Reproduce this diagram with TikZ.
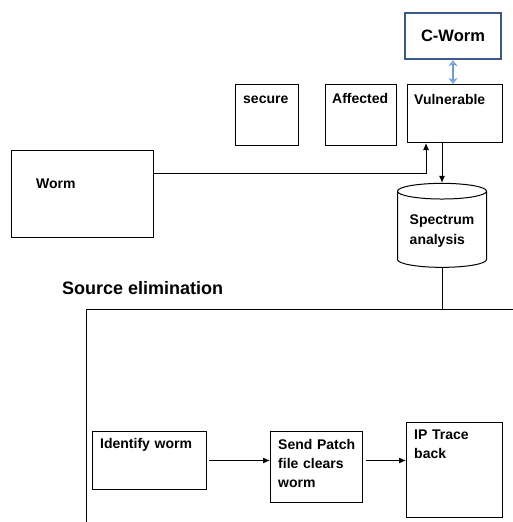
\documentclass[tikz,border=0pt]{standalone}
\usepackage{fontspec}
\setmainfont{Liberation Sans}
\usetikzlibrary{arrows.meta,shapes.geometric}
\definecolor{wormblue}{RGB}{59,89,137}
\definecolor{linkblue}{RGB}{110,155,210}

\begin{document}
\begin{tikzpicture}[x=1pt, y=-1pt,
  box/.style={draw, line width=1pt, anchor=north west, inner sep=0pt},
  tag/.style={anchor=base west, inner sep=0pt, align=left, text width=#1,
              font=\bfseries\fontsize{14}{19}\selectfont},
  tag/.default=100pt,
  arr/.style={-{Latex[length=7pt, width=6pt]}, line width=1pt}
]
  \useasboundingbox (0,0) rectangle (513,522);

  % top row
  \node[box, draw=wormblue, line width=2.4pt, anchor=center, minimum width=96pt, minimum height=46pt,
        font=\bfseries\fontsize{16.5}{19}\selectfont] (cworm) at (453,36) {C-Worm};
  \node[box, minimum width=63pt, minimum height=61pt] (secure) at (235,84) {};
  \node[tag] (securet) at ([shift={(8,19)}]secure.north west) {secure};
  \node[box, minimum width=71pt, minimum height=61pt] (affected) at (325,84) {};
  \node[tag] (affectedt) at ([shift={(7,19)}]affected.north west) {Affected};
  \node[box, minimum width=95pt, minimum height=58pt] (vuln) at (407,84) {};
  \node[tag] (vulnt) at ([shift={(7,20)}]vuln.north west) {Vulnerable};
  \draw[{Stealth[open, length=6pt, width=9pt]}-{Stealth[open, length=6pt, width=9pt]}, linkblue, line width=1.4pt]
    (cworm.south) -- (cworm.south |- vuln.north);

  % worm source
  \node[box, minimum width=142pt, minimum height=87pt] (worm) at (11,150) {};
  \node[tag] (wormt) at ([shift={(25,38)}]worm.north west) {Worm};
  \node[cylinder, shape border rotate=90, aspect=0.22, draw, line width=1pt,
        minimum width=89pt, minimum height=84pt, align=left,
        font=\bfseries\fontsize{14}{20}\selectfont] (spec) at (442,231) {Spectrum\\analysis};
  \draw[arr] (worm.north east |- 0,173) -| (426,0 |- vuln.south);
  \draw[arr] (spec.north |- vuln.south) -- (spec.north);

  % source elimination
  \node[anchor=west, inner sep=0pt, font=\bfseries\fontsize{18}{20}\selectfont] (elimt) at (62,288) {Source elimination};
  \coordinate (elim) at (86,309);
  \draw[line width=1pt] (86,522) -- (elim) -- (513,309);
  \draw[line width=1pt] (spec.south) -- (spec.south |- elim);

  \node[box, minimum width=114pt, minimum height=58pt] (ident) at (92,431) {};
  \node[tag] (identt) at ([shift={(8,17)}]ident.north west) {Identify worm};
  \node[box, minimum width=92pt, minimum height=71pt] (patch) at (270,431) {};
  \node[tag] (patcht) at ([shift={(8,18)}]patch.north west) {Send Patch\\file clears\\worm};
  \node[box, minimum width=96pt, minimum height=95pt] (trace) at (406,422) {};
  \node[tag] (tracet) at ([shift={(8,17)}]trace.north west) {IP Trace\\back};
  \draw[arr] ([xshift=2pt]ident.east) -- (ident.east -| patch.west);
  \draw[arr] ([xshift=3pt]patch.east |- ident.east) -- (ident.east -| trace.west);
\end{tikzpicture}
\end{document}
